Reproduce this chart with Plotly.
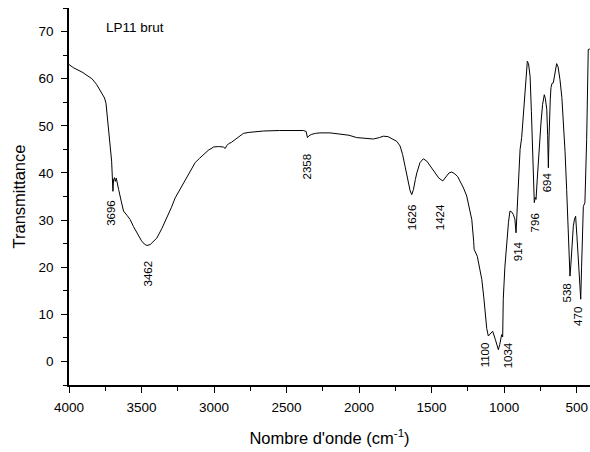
import plotly.graph_objects as go

# FTIR spectrum, LP11 brut
wavenumber = [4000, 3968, 3910, 3870, 3842, 3810, 3784, 3755, 3745, 3738, 3726, 3715, 3706, 3697, 3693,
              3686, 3681, 3674, 3665, 3658, 3640, 3624, 3600, 3578, 3555, 3531, 3500, 3480, 3463, 3440,
              3420, 3394, 3360, 3325, 3295, 3268, 3235, 3199, 3165, 3130, 3100, 3073, 3040, 3003, 2970,
              2935, 2923, 2912, 2900, 2880, 2854, 2820, 2797, 2760, 2700, 2659, 2550, 2450, 2384, 2365,
              2356, 2345, 2326, 2300, 2269, 2200, 2131, 2070, 2016, 1960, 1901, 1860, 1832, 1800, 1764,
              1740, 1717, 1700, 1683, 1665, 1648, 1637, 1625, 1612, 1602, 1580, 1557, 1533, 1505, 1477,
              1450, 1423, 1400, 1380, 1361, 1340, 1320, 1304, 1280, 1258, 1240, 1223, 1210, 1207, 1185,
              1170, 1154, 1140, 1131, 1120, 1109, 1095, 1079, 1060, 1040, 1030, 1017, 1010, 1006, 995,
              982, 970, 960, 950, 937, 926, 918, 912, 906, 898, 890, 879, 863, 850, 840,
              832, 821, 812, 803, 795, 792, 786, 780, 772, 765, 755, 746, 735, 723, 716,
              706, 700, 695, 691, 688, 682, 677, 670, 661, 650, 638, 628, 615, 602, 592,
              580, 569, 557, 546, 540, 532, 523, 515, 507, 498, 489, 480, 472, 466, 461,
              454, 443, 431, 420, 409]
transmittance = [63.0, 62.3, 61.4, 60.6, 60.0, 58.8, 57.3, 55.9, 54.8, 52.7, 49.5, 46.0, 42.5, 36.1, 38.5,
                 39.0, 38.2, 38.9, 37.2, 36.5, 34.0, 31.9, 31.0, 30.1, 28.6, 27.3, 25.6, 24.9, 24.6, 24.8,
                 25.4, 26.2, 28.2, 30.5, 32.6, 34.7, 36.5, 38.2, 40.3, 42.2, 43.1, 43.9, 44.8, 45.5, 45.6,
                 45.5, 45.2, 45.8, 46.2, 46.5, 47.1, 47.8, 48.4, 48.6, 48.8, 48.9, 49.0, 49.0, 49.0, 48.8,
                 47.5, 47.9, 48.2, 48.4, 48.5, 48.5, 48.3, 48.0, 47.5, 47.3, 47.2, 47.5, 47.8, 47.7, 47.2,
                 46.7, 45.7, 43.9, 41.4, 38.5, 36.2, 35.4, 36.5, 38.6, 40.0, 42.2, 43.0, 42.5, 41.3, 40.0,
                 38.9, 38.3, 39.2, 40.0, 40.2, 39.8, 39.2, 38.3, 36.8, 35.1, 32.8, 30.1, 25.5, 23.8, 22.3,
                 20.0, 17.4, 13.5, 9.6, 7.0, 5.4, 5.9, 6.4, 4.6, 2.5, 3.6, 5.7, 5.2, 13.2, 20.0,
                 25.9, 29.5, 31.9, 31.8, 31.2, 30.2, 27.3, 31.0, 34.4, 40.0, 45.0, 47.5, 54.2, 60.0, 63.7,
                 63.2, 60.5, 53.0, 43.5, 35.5, 33.7, 34.8, 34.4, 38.5, 42.1, 46.5, 50.6, 54.5, 56.6, 55.8,
                 53.5, 48.0, 41.1, 47.0, 52.0, 55.5, 58.1, 59.0, 59.1, 61.5, 63.2, 62.5, 59.8, 56.0, 51.7,
                 44.5, 36.5, 27.5, 18.1, 20.5, 25.0, 28.7, 30.2, 30.8, 26.5, 22.3, 16.0, 13.2, 20.0, 27.0,
                 32.9, 33.7, 47.1, 66.2, 66.3]

peak_labels = ["3696", "3462", "2358", "1626", "1424", "914", "796", "694", "538", "470", "1100", "1034"]
sample_label = "LP11 brut"
x_title = "Nombre d'onde (cm<sup>-1</sup>)"
y_title = "Transmittance"

# label placement (x in cm-1, y in transmittance units)
label_pos = [(3715, 31.6), (3454, 18.7), (2358, 41.4), (1635, 30.6), (1442, 30.6), (904, 23.4),
             (787, 29.3), (705, 38.0), (568, 14.6), (486, 9.6), (1132, 1.5), (973, 1.3)]

FONT = "Liberation Sans, Arial, sans-serif"

fig = go.Figure()
fig.add_trace(go.Scatter(x=wavenumber, y=transmittance, mode="lines",
                         line=dict(color="black", width=1), showlegend=False))

annotations = []
for txt, (px, py) in zip(peak_labels, label_pos):
    annotations.append(dict(x=px, y=py, xref="x", yref="y", text=txt, showarrow=False,
                            textangle=-90, xanchor="center", yanchor="middle",
                            font=dict(family=FONT, size=11.5, color="black")))
annotations.append(dict(x=3760, y=70.9, xref="x", yref="y", text=sample_label, showarrow=False,
                        xanchor="left", yanchor="middle",
                        font=dict(family=FONT, size=13.5, color="black")))

fig.update_layout(
    width=590, height=452,
    margin=dict(l=69, r=0, t=8, b=67),
    paper_bgcolor="white", plot_bgcolor="white",
    font=dict(family=FONT, color="black"),
    annotations=annotations,
    xaxis=dict(range=[4000, 408], tick0=0, dtick=500, ticks="outside", ticklen=6, tickwidth=1.3,
               tickcolor="black", showline=True, linecolor="black", linewidth=1.5,
               showgrid=False, zeroline=False, tickfont=dict(size=13.5, family=FONT),
               ticklabelstandoff=3,
               minor=dict(dtick=250, ticks="outside", ticklen=4, tickwidth=1.3, tickcolor="black",
                          showgrid=False),
               title=dict(text=x_title, font=dict(size=16.5, family=FONT), standoff=18)),
    yaxis=dict(range=[-5, 75], tick0=0, dtick=10, ticks="outside", ticklen=6, tickwidth=1.3,
               tickcolor="black", showline=True, linecolor="black", linewidth=1.5,
               showgrid=False, zeroline=False, tickfont=dict(size=13.5, family=FONT),
               ticklabelstandoff=5,
               minor=dict(dtick=5, ticks="outside", ticklen=4, tickwidth=1.3, tickcolor="black",
                          showgrid=False),
               title=dict(text=y_title, font=dict(size=16.5, family=FONT), standoff=9)),
)

fig.write_html("out.html")
